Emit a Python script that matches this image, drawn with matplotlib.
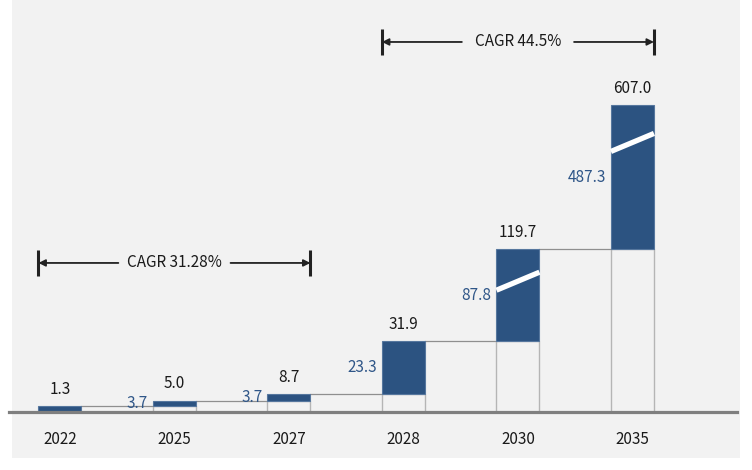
import matplotlib
matplotlib.use('Agg')
import matplotlib.pyplot as plt
from matplotlib.patches import Rectangle
import matplotlib.transforms as mtransforms
import numpy as np

plt.rcParams['font.family'] = ['Noto Sans CJK KR', 'DejaVu Sans']

# data
years = ['2022', '2025', '2027', '2028', '2030', '2035']
totals = [1.3, 5.0, 8.7, 31.9, 119.7, 607.0]
increments = [None, 3.7, 3.7, 23.3, 87.8, 487.3]
total_labels = ['1.3', '5.0', '8.7', '31.9', '119.7', '607.0']
inc_labels = ['', '3.7', '3.7', '23.3', '87.8', '487.3']
# break marks (position of the slash inside the blue part, fraction)
slash_frac = [None, None, None, None, 0.65, 0.74]
cagr_spans = [(0, 2, 'CAGR 31.28%', 0.361), (3, 5, 'CAGR 44.5%', 0.898)]

# non linear (broken) value axis: value -> visual height
scale_vals = [0, 1.3, 5.0, 8.7, 31.9, 119.7, 607.0, 1000.0]
scale_vis = [0, 5.5, 11.0, 17.5, 70.5, 162.5, 306.5, 411.5]

def fwd(v):
   return np.interp(v, scale_vals, scale_vis)

def inv(p):
   return np.interp(p, scale_vis, scale_vals)

blue = '#2c5381'
blue_txt = '#2f5688'
fs = 11
W, H = 752, 470

fig = plt.figure(figsize=(W/100., H/100.), dpi=100)
fig.patch.set_facecolor('white')
fig.patches.append(Rectangle((12./W, (H-458.)/H), 728./W, 458./H,
                             transform=fig.transFigure, facecolor='#f2f2f2',
                             edgecolor='none', zorder=-10))

ax = fig.add_axes([9./W, (H-411.5)/H, 728./W, 411.5/H])
ax.set_facecolor('none')
ax.set_yscale('function', functions=(fwd, inv))
ax.set_ylim(0, 1000)
ax.set_xlim(-0.445, 5.913)

bw = 0.3755
x = np.arange(len(years))
prev = [0] + totals[:-1]

for i in range(len(years)):
   if i > 0:
      ax.bar(x[i], prev[i], width=bw, bottom=0, color='none',
             edgecolor='#b5b5b5', linewidth=1, zorder=2)
   ax.bar(x[i], totals[i]-prev[i], width=bw, bottom=prev[i], color=blue,
          edgecolor='#56779e', linewidth=0.8, zorder=3)
   # connector to next bar
   if i < len(years)-1:
      ax.plot([x[i]+bw/2, x[i+1]-bw/2], [totals[i], totals[i]],
              color='#8f8f8f', lw=0.9, zorder=2)
   # total label
   ax.annotate(total_labels[i], (x[i], totals[i]), xytext=(0, 16.5),
               textcoords='offset pixels', ha='center', va='center',
               fontsize=fs, color='#1a1a1a')
   # increment label
   if inc_labels[i]:
      ymid = inv((fwd(prev[i]) + fwd(totals[i]))/2.)
      ax.annotate(inc_labels[i], (x[i]-bw/2, ymid), xytext=(-5, 0),
                  textcoords='offset pixels', ha='right', va='center',
                  fontsize=fs, color=blue_txt)
   # break slash
   if slash_frac[i] is not None:
      lo, hi = fwd(prev[i]), fwd(totals[i])
      c = lo + slash_frac[i]*(hi-lo)
      ax.plot([x[i]-bw/2, x[i]+bw/2], [inv(c-9), inv(c+9)],
              color='white', lw=3.8, solid_capstyle='butt', zorder=4)

ax.axhline(0, color='#7f7f7f', lw=2.3, zorder=5, clip_on=False)

# CAGR brackets
trans = mtransforms.blended_transform_factory(ax.transData, ax.transAxes)
for a, b, txt, yf in cagr_spans:
   xl = x[a]-bw/2
   xr = x[b]+bw/2
   xc = (xl+xr)/2.
   for xe in (xl, xr):
      ax.plot([xe, xe], [yf-0.031, yf+0.031], color='#222222', lw=2.2,
              transform=trans, clip_on=False, solid_capstyle='butt')
   ax.text(xc, yf, txt, transform=trans, ha='center', va='center',
           fontsize=fs, color='#1a1a1a')
   ax.annotate('', xy=(xl, yf), xytext=(xc-0.49, yf), xycoords=trans,
               textcoords=trans,
               arrowprops=dict(arrowstyle='-|>', color='#222222', lw=1.3,
                               mutation_scale=10, shrinkA=0, shrinkB=0))
   ax.annotate('', xy=(xr, yf), xytext=(xc+0.49, yf), xycoords=trans,
               textcoords=trans,
               arrowprops=dict(arrowstyle='-|>', color='#222222', lw=1.3,
                               mutation_scale=10, shrinkA=0, shrinkB=0))

ax.set_xticks(x)
ax.set_xticklabels(years, fontsize=fs, color='#1a1a1a')
ax.tick_params(axis='x', length=0, pad=14)
ax.set_yticks([])
ax.yaxis.set_minor_locator(matplotlib.ticker.NullLocator())
for s in ax.spines.values():
   s.set_visible(False)

fig.savefig('out.png', dpi=100)
